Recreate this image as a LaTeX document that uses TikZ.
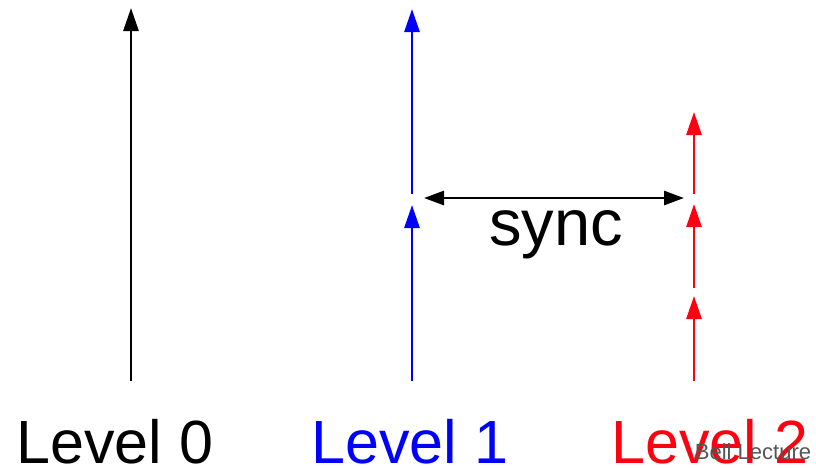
\documentclass[tikz,border=0pt]{standalone}
\usepackage{fontspec}
\setmainfont{Liberation Sans}
\usetikzlibrary{arrows.meta}
\definecolor{lvblue}{RGB}{0,0,255}
\definecolor{lvred}{RGB}{255,0,16}
\definecolor{wmgray}{RGB}{85,85,85}
\begin{document}
\begin{tikzpicture}[x=1pt,y=-1pt,
  evt/.style={line width=2.8pt,-{Triangle[length=23pt,width=15pt]}},
  syncarrow/.style={line width=2.8pt,{Triangle[length=20pt,width=14pt]}-{Triangle[length=20pt,width=14pt]}},
  lvl/.style={anchor=base,inner sep=0pt,font=\fontsize{61}{61}\selectfont}]
\useasboundingbox (0,0) rectangle (816,467);
% Level 0
\coordinate (a0) at (131,381);
\coordinate (a1) at (131,8);
\draw[evt] (a0) -- (a1);
% Level 1
\coordinate (b0) at (412,381);
\coordinate (b1) at (412,205);
\coordinate (b2) at (412,194);
\coordinate (b3) at (412,9);
\draw[evt,lvblue] (b0) -- (b1);
\draw[evt,lvblue] (b2) -- (b3);
% Level 2
\coordinate (c0) at (694,381);
\coordinate (c1) at (694,296);
\coordinate (c2) at (694,288);
\coordinate (c3) at (694,204);
\coordinate (c4) at (694,194);
\coordinate (c5) at (694,112);
\draw[evt,lvred] (c0) -- (c1);
\draw[evt,lvred] (c2) -- (c3);
\draw[evt,lvred] (c4) -- (c5);
% sync
\coordinate (s0) at (424,198);
\coordinate (s1) at (684,198);
\draw[syncarrow] (s0) -- (s1);
\node[anchor=base,inner sep=0pt,font=\fontsize{65}{65}\selectfont] (synclbl) at (556,245) {sync};
% labels
\node[lvl] (l0) at (115,463) {Level 0};
\node[lvl,text=lvblue] (l1) at (410,463) {Level 1};
\node[lvl,text=lvred] (l2) at (710,463) {Level 2};
\node[anchor=base,inner sep=0pt,text=wmgray,font=\fontsize{22}{22}\selectfont] (wm) at (753,459) {Bell Lecture};
\end{tikzpicture}
\end{document}
